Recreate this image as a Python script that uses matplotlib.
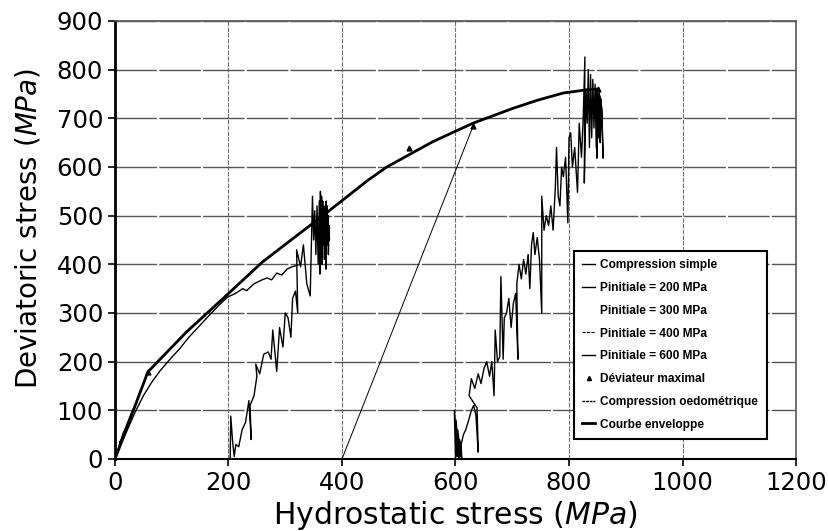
import matplotlib.pyplot as plt
from matplotlib.lines import Line2D

# Compression simple (start of loading path from the origin)
simple_p = [0, 6, 10, 8, 14, 20, 28, 36, 44, 52, 58]
simple_q = [0, 22, 38, 30, 52, 68, 92, 112, 138, 160, 179]

# Compression oedométrique
oedo_p = [0, 10, 20, 35, 50, 65, 80, 97, 115, 130, 150, 170, 185, 199, 212, 225, 232, 245, 259, 268, 276, 285, 294, 303, 312, 322]
oedo_q = [0, 28, 55, 95, 130, 158, 182, 205, 228, 250, 275, 300, 318, 333, 340, 350, 346, 360, 368, 372, 368, 382, 378, 390, 395, 398]

# Pinitiale = 200 MPa, (p, q) pairs
p200 = [(203, 0), (204, 88), (207, 40), (210, 5), (213, 30), (218, 25), (224, 60), (230, 75),
        (236, 120), (240, 40), (238, 110), (245, 130), (250, 170), (248, 195), (255, 175), (262, 215),
        (270, 220), (275, 205), (278, 265), (285, 180), (290, 270), (296, 230), (300, 300), (305, 290),
        (310, 250), (313, 330), (318, 345), (322, 300), (320, 430), (327, 395), (332, 440), (338, 360),
        (344, 335), (348, 540), (350, 450), (352, 510), (354, 420), (356, 520), (358, 400), (360, 530),
        (361, 380), (362, 550), (363, 430), (364, 540), (365, 400), (366, 530), (367, 440), (368, 520),
        (369, 410), (370, 510), (371, 450), (372, 530), (372, 390), (373, 500), (374, 440), (374, 520),
        (375, 460), (376, 500), (376, 420), (377, 480), (378, 450), (373, 470), (378, 475)]

# Pinitiale = 400 MPa
p400_p = [400, 467, 502, 537, 561, 602, 631]
p400_q = [0, 198, 302, 406, 477, 598, 684]

# Pinitiale = 600 MPa, (p, q) pairs
p600 = [(600, 0), (598, 100), (603, 5), (601, 80), (606, 0), (604, 60), (609, 5), (607, 40), (611, 0),
        (610, 30), (614, 50), (618, 60), (622, 75), (628, 100), (632, 110), (636, 90), (640, 14), (638, 105),
        (624, 130), (628, 165), (634, 145), (640, 175), (645, 155), (650, 185), (655, 200), (660, 170),
        (664, 200), (668, 130), (670, 265), (674, 200), (678, 210), (680, 375), (684, 205), (686, 290),
        (690, 300), (694, 330), (698, 270), (702, 320), (706, 340), (710, 205), (708, 360), (712, 400),
        (716, 370), (720, 410), (724, 380), (728, 420), (731, 350), (734, 440), (737, 465), (740, 420),
        (744, 455), (748, 410), (752, 300), (752, 540), (756, 470), (760, 500), (764, 480), (768, 520),
        (772, 470), (776, 560), (778, 640), (781, 540), (784, 520), (787, 600), (790, 580), (794, 620),
        (798, 485), (800, 660), (803, 670), (806, 600), (810, 640), (815, 548), (818, 690), (822, 620),
        (825, 700), (828, 826), (827, 567), (830, 760), (832, 690), (834, 800), (836, 640), (838, 790),
        (840, 660), (842, 780), (844, 680), (846, 770), (848, 640), (849, 760), (849, 618), (851, 750),
        (852, 660), (854, 745), (855, 650), (856, 740), (858, 700), (860, 618), (858, 720), (852, 760)]

# Courbe enveloppe
env_p = [0, 58, 126, 200, 260, 374, 446, 479, 560, 631, 700, 744, 790, 828, 850]
env_q = [0, 179, 261, 340, 405, 507, 573, 600, 652, 690, 720, 737, 752, 758, 760]

# Déviateur maximal
dmax_p = [58, 518, 631, 851]
dmax_q = [179, 639, 684, 760]

legend_labels = ["Compression simple", "Pinitiale = 200 MPa", "Pinitiale = 300 MPa",
                 "Pinitiale = 400 MPa", "Pinitiale = 600 MPa", "Déviateur maximal",
                 "Compression oedométrique", "Courbe enveloppe"]

fig = plt.figure(figsize=(8.29, 5.31), dpi=100)
ax = fig.add_axes([0.1387, 0.1356, 0.8215, 0.8249])

ax.plot(simple_p, simple_q, color="black", lw=1.0)
ax.plot(oedo_p, oedo_q, color="black", lw=1.0)
ax.plot(*zip(*p200), color="black", lw=1.0)
ax.plot(p400_p, p400_q, color="black", lw=0.7)
ax.plot(*zip(*p600), color="black", lw=1.0)
ax.plot(env_p, env_q, color="black", lw=2.0)
ax.plot(dmax_p, dmax_q, ls="none", marker="^", ms=3.5, color="black")

ax.set_xlim(0, 1200)
ax.set_ylim(0, 900)
ax.set_xticks(range(0, 1201, 200))
ax.set_yticks(range(0, 901, 100))
ax.tick_params(labelsize=17.5, width=1.2, length=5)
ax.grid(True, axis="y", color="#555555", lw=1.0, ls=(0, (30, 1.5)))
ax.grid(True, axis="x", color="#707070", lw=0.8, ls=(0, (4, 1.2)))
ax.set_axisbelow(True)

ax.spines["left"].set_linewidth(2.0)
ax.spines["bottom"].set_linewidth(1.5)
for side in ("right", "top"):
    ax.spines[side].set_color("#555555")
    ax.spines[side].set_linewidth(1.2)

ax.set_xlabel("Hydrostatic stress ($MPa$)", fontsize=21.5, labelpad=3)
ax.set_ylabel("Deviatoric stress ($MPa$)", fontsize=20)
ax.yaxis.set_label_coords(-0.107, 0.527)

handles = [
    Line2D([], [], color="black", lw=1.0),
    Line2D([], [], color="black", lw=1.0),
    Line2D([], [], color="none"),
    Line2D([], [], color="black", lw=0.8, ls=(0, (3, 1))),
    Line2D([], [], color="black", lw=1.0),
    Line2D([], [], ls="none", marker="^", ms=3, color="black"),
    Line2D([], [], color="black", lw=1.0, ls=(0, (2, 0.6))),
    Line2D([], [], color="black", lw=2.0),
]
leg = ax.legend(handles, legend_labels, loc="upper left", bbox_to_anchor=(0.674, 0.475),
                borderaxespad=0, fancybox=False, framealpha=1, edgecolor="black",
                prop={"family": "Liberation Sans", "weight": "bold", "size": 8.6},
                handlelength=1.1, handletextpad=0.4, labelspacing=0.9, borderpad=0.7)
leg.get_frame().set_linewidth(1.5)

fig.savefig("out.png", dpi=100)
